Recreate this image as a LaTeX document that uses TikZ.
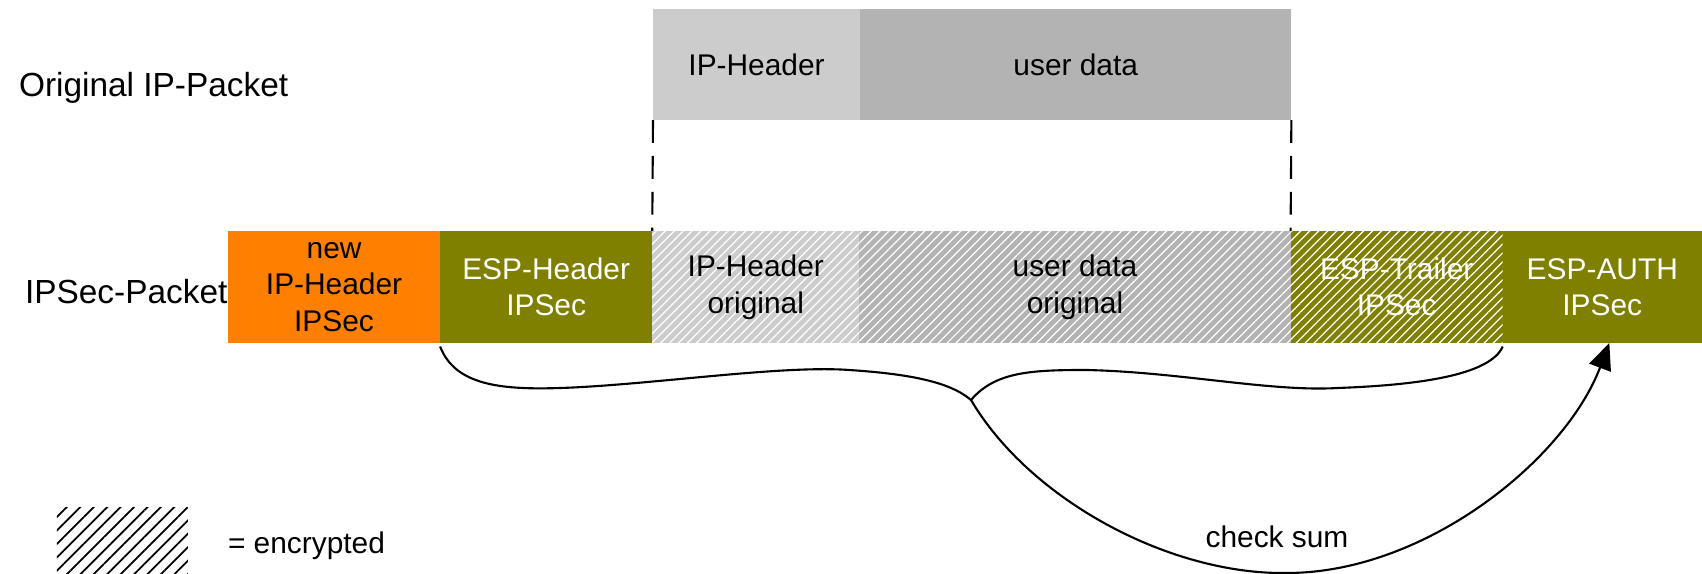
\documentclass[tikz,border=0pt]{standalone}
\usepackage{fontspec}
\setmainfont{Liberation Sans}
\usetikzlibrary{arrows.meta}
\usetikzlibrary{positioning}
\usetikzlibrary{patterns.meta}
\definecolor{newiporange}{HTML}{FF8000}
\definecolor{espolive}{HTML}{808000}
\definecolor{hdrgray}{HTML}{CCCCCC}
\definecolor{datagray}{HTML}{B3B3B3}
\pgfmathsetmacro{\myth}{1.11}
\pgfmathsetmacro{\mybh}{1.12}
\newlength{\mylw}
\setlength{\mylw}{0.6pt}

\tikzset{
    field/.style={inner sep=0pt, outer sep=0pt, align=center,
        font=\fontsize{8.5}{10.4}\selectfont},
    crypt/.style={postaction={pattern={Lines[angle=45,distance=1.8pt,line width=0.35pt]},
        pattern color=white}},
    rowlbl/.style={anchor=west, inner sep=0pt, font=\fontsize{9.5}{11}\selectfont}
}

\begin{document}
\begin{tikzpicture}[x=0.01cm, y=-0.01cm, line width=\mylw]
\useasboundingbox (0,0) rectangle (1702,574);

\node[rowlbl] (origlbl) at (18,88) {Original IP-Packet};
\node[rowlbl] (ipseclbl) at (24,292) {IPSec-Packet};

\node[field, fill=hdrgray, minimum width=2.07cm, minimum height=\myth cm, anchor=north west] (iphdr) at (653,9) {IP-Header};
\node[field, fill=datagray, minimum width=4.31cm, minimum height=\myth cm, right=0pt of iphdr] (usrdata) {user data};

\node[field, fill=newiporange, minimum width=2.12cm, minimum height=\mybh cm, anchor=north west] (newip) at (228,231) {new\\IP-Header\\IPSec};
\node[field, fill=espolive, text=white, minimum width=2.12cm, minimum height=\mybh cm, right=0pt of newip] (esphdr) {ESP-Header\\IPSec};
\node[field, fill=hdrgray, crypt, minimum width=2.07cm, minimum height=\mybh cm, right=0pt of esphdr] (iphdrorig) {IP-Header\\original};
\node[field, fill=datagray, crypt, minimum width=4.31cm, minimum height=\mybh cm, right=0pt of iphdrorig] (usrdataorig) {user data\\original};
\node[field, fill=espolive, crypt, text=white, minimum width=2.12cm, minimum height=\mybh cm, right=0pt of usrdataorig] (esptrl) {ESP-Trailer\\IPSec};
\node[field, fill=espolive, text=white, minimum width=1.99cm, minimum height=\mybh cm, right=0pt of esptrl] (espauth) {ESP-AUTH\\IPSec};

\draw[dash pattern=on 6.5pt off 3.7pt] (iphdr.south west) -- (iphdrorig.north west);
\draw[dash pattern=on 6.5pt off 3.7pt] (usrdata.south east) -- (usrdataorig.north east);

\coordinate (cusp) at (971,400);
\draw ([yshift=-1pt]esphdr.south west) .. controls (455,385) and (500,390) .. (561,388)
    .. controls (650,385) and (780,365) .. (849,370)
    .. controls (910,374) and (950,382) .. (cusp)
    .. controls (995,372) and (1030,370) .. (1086,370)
    .. controls (1180,372) and (1270,392) .. (1338,388)
    .. controls (1420,385) and (1490,375) .. ([yshift=-1pt]esptrl.south east);
\draw[-{Triangle[length=7.5pt,width=6.5pt]}] (cusp) .. controls (1030,500) and (1170,575) .. (1287,573)
    .. controls (1425,573) and (1565,460) .. ([xshift=2pt]espauth.south);
\node[field] (cslbl) at (1277,537) {check sum};

\node[inner sep=0pt, minimum width=1.31cm, minimum height=0.67cm, anchor=north west,
    pattern={Lines[angle=45,distance=2.7pt,line width=0.5pt]}, pattern color=black] (legend) at (56,507) {};
\node[field, anchor=west] (enclbl) at (228,546) {= encrypted};
\end{tikzpicture}
\end{document}
